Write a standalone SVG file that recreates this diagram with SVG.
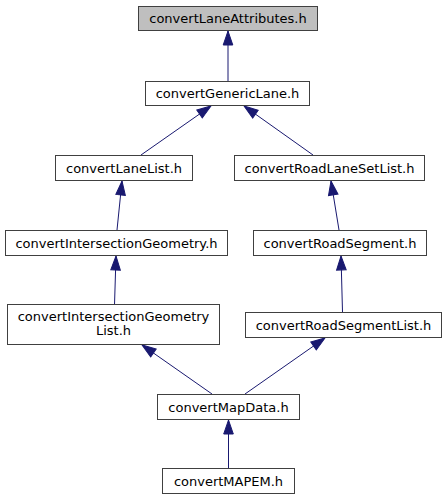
<svg xmlns="http://www.w3.org/2000/svg" width="447" height="500" viewBox="0 0 447 500">
<style>
  .node rect { fill: #ffffff; stroke: #404040; stroke-width: 1; }
  .node.root rect { fill: #bfbfbf; }
  .node text { font-family: "DejaVu Sans", sans-serif; font-size: 13px; fill: #000000; text-anchor: middle; }
  .edges line { stroke: #191970; stroke-width: 1; fill: none; marker-end: url(#arrow); }
</style>
<defs>
  <marker id="arrow" markerUnits="userSpaceOnUse" markerWidth="16" markerHeight="12" viewBox="0 0 16 12" refX="15" refY="6" orient="auto">
    <path d="M1,1.2 L15,6 L1,10.8 Z" fill="#191970" stroke="#191970" stroke-width="1"/>
  </marker>
</defs>
<rect x="0" y="0" width="447" height="500" fill="#ffffff"/>
<g class="edges">
  <line x1="228" y1="81" x2="228" y2="31"/>
  <line x1="141" y1="155" x2="211" y2="106"/>
  <line x1="313" y1="155" x2="244" y2="106"/>
  <line x1="117" y1="230" x2="122" y2="181"/>
  <line x1="339" y1="230" x2="331" y2="181"/>
  <line x1="114.5" y1="305" x2="116" y2="256"/>
  <line x1="342.5" y1="312" x2="341" y2="256"/>
  <line x1="212" y1="394" x2="142" y2="345"/>
  <line x1="245" y1="394" x2="325" y2="338"/>
  <line x1="228.5" y1="468" x2="228.5" y2="420"/>
</g>
<g id="node1" class="node root">
  <rect x="138.5" y="6.5" width="179" height="24"/>
  <text x="228" y="23">convertLaneAttributes.h</text>
</g>
<g id="node2" class="node">
  <rect x="145.5" y="81.5" width="164" height="24"/>
  <text x="227.5" y="98">convertGenericLane.h</text>
</g>
<g id="node3" class="node">
  <rect x="55.5" y="155.5" width="137" height="25"/>
  <text x="124" y="172.5">convertLaneList.h</text>
</g>
<g id="node4" class="node">
  <rect x="234.5" y="155.5" width="190" height="25"/>
  <text x="329.5" y="172.5">convertRoadLaneSetList.h</text>
</g>
<g id="node5" class="node">
  <rect x="5.5" y="230.5" width="222" height="25"/>
  <text x="116.5" y="247.5">convertIntersectionGeometry.h</text>
</g>
<g id="node6" class="node">
  <rect x="253.5" y="230.5" width="173" height="25"/>
  <text x="340" y="247.5">convertRoadSegment.h</text>
</g>
<g id="node7" class="node">
  <rect x="7.5" y="304.5" width="212" height="40"/>
  <text x="113.5" y="321">convertIntersectionGeometry</text>
  <text x="113.5" y="335">List.h</text>
</g>
<g id="node8" class="node">
  <rect x="245.5" y="312.5" width="196" height="25"/>
  <text x="343.5" y="329.5">convertRoadSegmentList.h</text>
</g>
<g id="node9" class="node">
  <rect x="157.5" y="394.5" width="142" height="25"/>
  <text x="228.5" y="411.5">convertMapData.h</text>
</g>
<g id="node10" class="node">
  <rect x="162.5" y="468.5" width="132" height="25"/>
  <text x="228.5" y="485.5">convertMAPEM.h</text>
</g>
</svg>
